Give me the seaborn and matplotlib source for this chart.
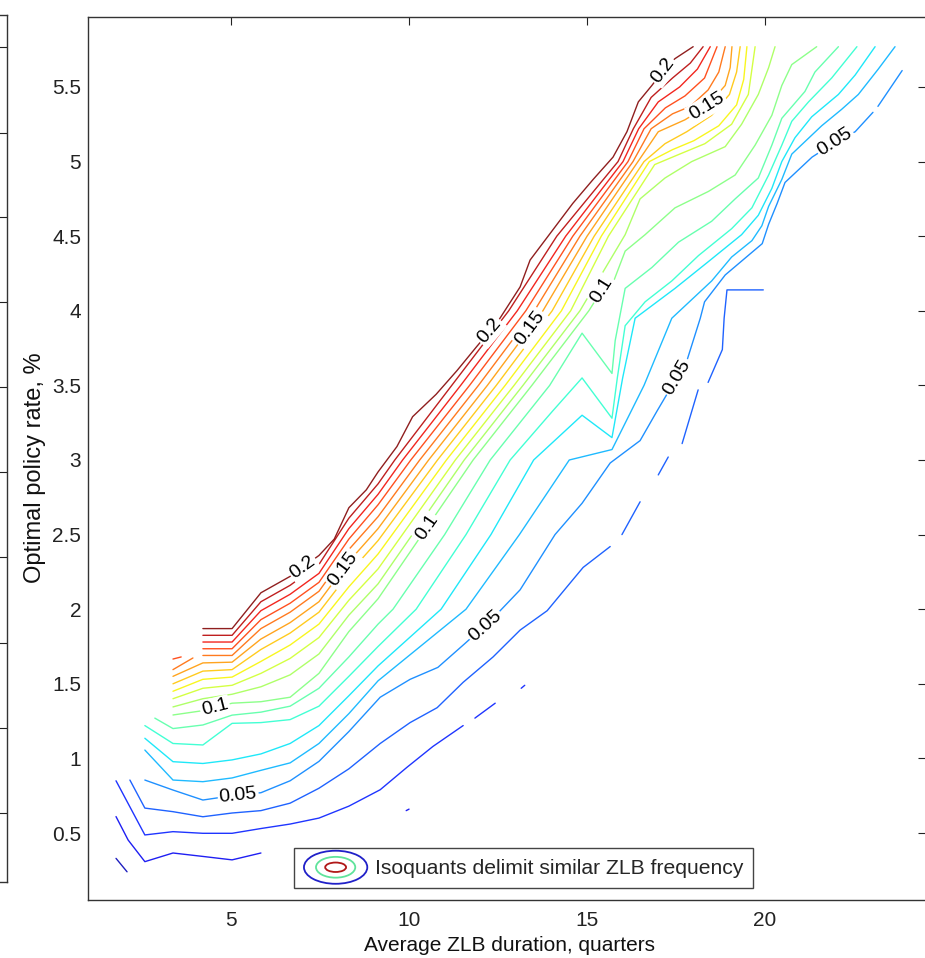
import math
import numpy as np
import pandas as pd
import seaborn as sns
import matplotlib
matplotlib.use("Agg")
import matplotlib.pyplot as plt
from matplotlib.legend_handler import HandlerBase
from matplotlib.patches import Ellipse

sns.set_style("white")
plt.rcParams['font.family'] = ['Liberation Sans', 'DejaVu Sans']

N = None  # break inside an isoquant

# ---------------- data: isoquants (x = avg ZLB duration, y = policy rate) ----------------
iso01_x = [1.77, 2.08]
iso01_y = [0.33, 0.24]
iso02_x = [1.77, 2.11, 2.58, 3.37, 4.21, 5.03, 5.84, N, 9.92, 10.00]
iso02_y = [0.61, 0.453, 0.308, 0.366, 0.343, 0.32, 0.366, N, 0.65, 0.66]
iso03_x = [1.77, 2.58, 3.37, 4.21, 5.03, 5.84, 6.66, 7.47, 8.31, 9.19, 9.94, 10.67, 11.52, N, 11.85, 12.42, N, 13.15, 13.25]
iso03_y = [0.85, 0.487, 0.509, 0.498, 0.498, 0.53, 0.56, 0.60, 0.68, 0.79, 0.94, 1.08, 1.22, N, 1.27, 1.37, N, 1.47, 1.49]
iso04_x = [2.16, 2.58, 3.37, 4.21, 5.03, 5.84, 6.66, 7.47, 8.31, 9.19, 10.03, 10.79, 11.52, 12.36, 13.12, 13.88, 14.61, 14.89, 15.65,
           N, 15.98, 16.49, N, 17.00, 17.28, N, 17.67, 18.12, N, 18.40, 18.80, 18.85, 18.93, 19.95]
iso04_y = [0.855, 0.667, 0.643, 0.609, 0.634, 0.65, 0.70, 0.80, 0.93, 1.10, 1.24, 1.34, 1.51, 1.68, 1.86, 1.99, 2.20, 2.28, 2.42,
           N, 2.50, 2.72, N, 2.90, 3.02, N, 3.11, 3.47, N, 3.52, 3.74, 3.95, 4.14, 4.14]
iso05_x = [2.58, 3.37, 4.21, 5.03, 5.84, 6.66, 7.47, 8.31, 9.19, 10.03, 10.81, 11.57, 12.36, 13.12, 14.10, 14.86, 15.65, 16.49,
           16.97, 17.81, 18.18, 18.30, 18.88, 19.92, 20.10, 20.34, 20.56, 21.32, 21.97, 22.53, 23.03, N, 23.17, 23.85]
iso05_y = [0.855, 0.788, 0.721, 0.75, 0.77, 0.85, 0.98, 1.18, 1.41, 1.53, 1.61, 1.77, 1.94, 2.13, 2.50, 2.71, 2.98, 3.13,
           3.33, 3.67, 3.95, 4.06, 4.24, 4.45, 4.58, 4.72, 4.86, 5.03, 5.13, 5.20, 5.33, N, 5.37, 5.61]
iso06_x = [2.58, 3.37, 4.21, 5.03, 5.84, 6.66, 7.47, 8.31, 9.13, 11.60, 13.10, 14.50, 15.70, 16.60, 17.38, 18.50, 19.06, 19.63,
           19.91, 20.10, 20.47, 20.75, 21.59, 22.15, 22.62, 23.18, 23.65]
iso06_y = [1.056, 0.855, 0.844, 0.869, 0.92, 0.97, 1.10, 1.30, 1.52, 2.00, 2.50, 3.00, 3.07, 3.50, 3.95, 4.20, 4.36, 4.47,
           4.57, 4.70, 4.88, 5.05, 5.24, 5.35, 5.45, 5.62, 5.77]
iso07_x = [2.58, 3.37, 4.21, 5.03, 5.84, 6.66, 7.47, 8.31, 9.13, 10.90, 12.30, 13.50, 14.86, 15.70, 16.00, 16.35, 17.47, 18.41,
           19.34, 19.81, 20.19, 20.47, 20.84, 21.31, 22.06, 22.53, 23.09]
iso07_y = [1.135, 0.978, 0.966, 0.99, 1.03, 1.10, 1.22, 1.42, 1.62, 2.00, 2.50, 3.00, 3.30, 3.15, 3.55, 3.95, 4.15, 4.33,
           4.51, 4.64, 4.82, 5.00, 5.16, 5.30, 5.45, 5.58, 5.77]
iso08_x = [2.58, 3.37, 4.21, 5.03, 5.84, 6.66, 7.47, 8.31, 9.13, 10.20, 11.60, 12.84, 14.04, 14.86, 15.70, 15.85, 16.07, 16.63,
           17.38, 18.13, 19.06, 19.63, 20.10, 20.47, 20.75, 21.22, 21.87, 22.58]
iso08_y = [1.22, 1.10, 1.09, 1.235, 1.24, 1.26, 1.35, 1.55, 1.75, 2.00, 2.50, 3.00, 3.33, 3.55, 3.28, 3.55, 3.90, 4.06,
           4.20, 4.37, 4.55, 4.69, 4.91, 5.11, 5.27, 5.40, 5.56, 5.77]
iso09_x = [2.86, 3.37, 4.21, 5.03, 5.84, 6.66, 7.47, 8.31, 9.13, 9.55, 11.00, 12.28, 13.95, 14.86, 15.70, 15.79, 16.07, 16.82,
           17.57, 18.50, 19.16, 19.81, 20.19, 20.47, 21.12, 21.40, 22.06]
iso09_y = [1.27, 1.20, 1.224, 1.29, 1.31, 1.35, 1.47, 1.68, 1.90, 2.00, 2.50, 3.00, 3.50, 3.85, 3.58, 3.80, 4.15, 4.29,
           4.46, 4.60, 4.75, 4.89, 5.11, 5.29, 5.47, 5.60, 5.77]
iso10_x = [3.37, 4.21, 5.03, 5.84, 6.66, 7.47, 8.31, 9.13, 11.80, 13.45, 15.05, 15.42, 15.75, 16.07, 16.63, 17.47, 18.41,
           19.16, 19.72, 20.19, 20.47, 20.75, 21.45]
iso10_y = [1.291, 1.32, 1.37, 1.38, 1.41, 1.57, 1.85, 2.07, 3.00, 3.50, 4.00, 4.14, 4.20, 4.40, 4.51, 4.69, 4.80,
           4.91, 5.11, 5.31, 5.51, 5.65, 5.77]
iso11_x = [3.37, 4.21, 5.03, 5.84, 6.66, 7.47, 8.31, 9.13, 11.55, 13.20, 14.80, 16.07, 16.49, 17.19, 17.94, 18.88, 19.34, 19.81, 20.10, 20.28]
iso11_y = [1.345, 1.40, 1.43, 1.48, 1.56, 1.70, 1.96, 2.17, 3.00, 3.50, 4.00, 4.51, 4.75, 4.89, 5.00, 5.10, 5.25, 5.45, 5.63, 5.77]
iso12_x = [3.37, 4.21, 5.03, 5.84, 6.66, 7.47, 8.31, 9.13, 11.30, 12.95, 14.54, 15.60, 16.90, 17.60, 18.31, 19.06, 19.53, 19.72]
iso12_y = [1.40, 1.47, 1.49, 1.57, 1.67, 1.81, 2.06, 2.27, 3.00, 3.50, 4.00, 4.50, 4.98, 5.05, 5.12, 5.25, 5.45, 5.77]
iso13_x = [3.37, 4.21, 5.03, 5.84, 6.66, 7.47, 8.31, 9.13, 11.05, 12.70, 14.28, 15.40, 16.75, 17.40, 18.00, 18.70, 19.20, 19.40, 19.49]
iso13_y = [1.45, 1.53, 1.545, 1.65, 1.76, 1.90, 2.15, 2.37, 3.00, 3.50, 4.00, 4.50, 5.00, 5.08, 5.14, 5.24, 5.38, 5.55, 5.77]
iso14_x = [3.37, 4.21, 5.03, 5.84, 6.66, 7.47, 8.31, 9.13, 10.80, 12.45, 14.02, 15.20, 16.60, 17.19, 17.80, 18.50, 19.00, 19.20, 19.30]
iso14_y = [1.50, 1.585, 1.595, 1.73, 1.84, 1.98, 2.24, 2.46, 3.00, 3.50, 4.00, 4.50, 5.00, 5.12, 5.20, 5.31, 5.45, 5.60, 5.77]
iso15_x = [3.37, 4.21, 5.03, 5.84, 6.66, 7.47, 8.31, 9.13, 10.55, 12.20, 13.76, 15.00, 16.43, 17.00, 17.75, 18.36, 18.88, 19.02, 19.07]
iso15_y = [1.55, 1.64, 1.645, 1.80, 1.91, 2.05, 2.32, 2.54, 3.00, 3.50, 4.00, 4.50, 5.00, 5.20, 5.28, 5.37, 5.51, 5.63, 5.77]
iso16_x = [3.37, 3.93, N, 4.21, 5.03, 5.84, 6.66, 7.47, 8.31, 9.13, 10.30, 11.95, 13.52, 14.80, 16.29, 16.80, 17.40, 17.90, 18.40, 18.70, 18.88]
iso16_y = [1.595, 1.673, N, 1.69, 1.69, 1.87, 1.98, 2.12, 2.40, 2.62, 3.00, 3.50, 4.00, 4.50, 5.00, 5.22, 5.32, 5.37, 5.48, 5.60, 5.77]
iso17_x = [3.37, 3.60, N, 4.21, 5.03, 5.84, 6.66, 7.47, 8.31, 9.13, 10.05, 11.70, 13.28, 14.60, 16.15, 16.60, 17.20, 17.75, 18.30, 18.65]
iso17_y = [1.666, 1.68, N, 1.735, 1.735, 1.93, 2.04, 2.18, 2.47, 2.70, 3.00, 3.50, 4.00, 4.50, 5.00, 5.22, 5.36, 5.44, 5.56, 5.77]
iso18_x = [4.21, 5.03, 5.84, 6.66, 7.47, 8.31, 9.13, 9.82, 11.45, 13.04, 14.40, 16.01, 16.45, 17.00, 17.60, 18.10, 18.46]
iso18_y = [1.78, 1.78, 1.99, 2.10, 2.24, 2.54, 2.77, 3.00, 3.50, 4.00, 4.50, 5.00, 5.22, 5.40, 5.50, 5.62, 5.77]
iso19_x = [4.21, 5.03, 5.84, 6.66, 7.47, 8.31, 9.13, 9.60, 11.20, 12.80, 14.15, 15.87, 16.30, 16.80, 17.40, 17.90, 18.26]
iso19_y = [1.825, 1.825, 2.05, 2.16, 2.30, 2.61, 2.84, 3.00, 3.50, 4.00, 4.50, 5.00, 5.22, 5.43, 5.56, 5.66, 5.77]
iso20_x = [4.21, 5.03, 5.84, 6.66, 7.47, 7.90, 8.31, 8.80, 9.13, 9.66, 10.10, 10.76, 11.35, 11.90, 12.50, 13.12, 13.40,
           14.00, 14.60, 15.17, 15.73, 16.12, 16.44, 16.82, 17.14, 17.47, 17.98]
iso20_y = [1.87, 1.87, 2.11, 2.22, 2.36, 2.47, 2.68, 2.80, 2.92, 3.09, 3.29, 3.44, 3.60, 3.76, 3.93, 4.16, 4.34,
           4.53, 4.72, 4.88, 5.03, 5.20, 5.40, 5.51, 5.61, 5.69, 5.77]

levels = [0.01, 0.02, 0.03, 0.04, 0.05, 0.06, 0.07, 0.08, 0.09, 0.10,
          0.11, 0.12, 0.13, 0.14, 0.15, 0.16, 0.17, 0.18, 0.19, 0.20]
iso_x = [iso01_x, iso02_x, iso03_x, iso04_x, iso05_x, iso06_x, iso07_x, iso08_x, iso09_x, iso10_x,
         iso11_x, iso12_x, iso13_x, iso14_x, iso15_x, iso16_x, iso17_x, iso18_x, iso19_x, iso20_x]
iso_y = [iso01_y, iso02_y, iso03_y, iso04_y, iso05_y, iso06_y, iso07_y, iso08_y, iso09_y, iso10_y,
         iso11_y, iso12_y, iso13_y, iso14_y, iso15_y, iso16_y, iso17_y, iso18_y, iso19_y, iso20_y]

# inline contour labels: level and x position along the line
label_level = [0.20, 0.20, 0.20, 0.15, 0.15, 0.15, 0.10, 0.10, 0.10, 0.05, 0.05, 0.05, 0.05]
label_xpos = [7.02, 12.27, 17.14, 8.15, 13.4, 18.36, 4.55, 10.5, 15.42, 5.2, 12.13, 17.53, 21.97]

x_ticks = [5, 10, 15, 20]
y_ticks = [0.5, 1, 1.5, 2, 2.5, 3, 3.5, 4, 4.5, 5, 5.5]
y_ticklabels = ['0.5', '1', '1.5', '2', '2.5', '3', '3.5', '4', '4.5', '5', '5.5']
legend_text = 'Isoquants delimit similar ZLB frequency'
x_label = 'Average ZLB duration, quarters'
y_label = 'Optimal policy rate, %'

# ---------------- build long table, split into segments ----------------
def segments(xs, ys):
    segs, cx, cy = [], [], []
    for a, b in zip(xs, ys):
        if a is None:
            if cx:
                segs.append((cx, cy))
            cx, cy = [], []
        else:
            cx.append(a); cy.append(b)
    if cx:
        segs.append((cx, cy))
    return segs

rows = []
seg_id = 0
for lev, xs, ys in zip(levels, iso_x, iso_y):
    for sx, sy in segments(xs, ys):
        seg_id += 1
        for k, (a, b) in enumerate(zip(sx, sy)):
            rows.append(dict(level=lev, seg=seg_id, order=k, x=a, y=b))
df = pd.DataFrame(rows)

# ---------------- figure ----------------
W, H = 925, 958
fig = plt.figure(figsize=(W / 100, H / 100), dpi=100)
ax = fig.add_axes([88 / W, (H - 900) / H, 838 / W, 883 / H])

jet = matplotlib.colormaps['jet']
sns.lineplot(data=df, x='x', y='y', hue='level', units='seg', estimator=None, sort=False,
             palette=jet, hue_norm=(0.0, 0.2), legend=False, linewidth=1.0, alpha=0.88, ax=ax)

ax.set_xlim(0.983, 24.52)
ax.set_ylim(0.051, 5.969)
ax.set_xticks(x_ticks)
ax.set_xticklabels([str(t) for t in x_ticks])
ax.set_yticks(y_ticks)
ax.set_yticklabels(y_ticklabels)
ax.tick_params(axis='both', direction='in', length=6, width=0.8, top=True, right=True,
               labelsize=15, colors='#222222')
ax.tick_params(axis='x', pad=8)
ax.tick_params(axis='y', pad=5)
for s in ax.spines.values():
    s.set_linewidth(1.0)
    s.set_color('#333333')
ax.set_xlabel(x_label, fontsize=15, color='#111111')
ax.set_ylabel(y_label, fontsize=17, color='#111111')
ax.xaxis.set_label_coords(0.503, -0.041)
ax.yaxis.set_label_coords(-0.050, 0.49)

# inline labels
lev_index = {round(l, 3): i for i, l in enumerate(levels)}
for lev, xq in zip(label_level, label_xpos):
    i = lev_index[round(lev, 3)]
    done = False
    for sx, sy in segments(iso_x[i], iso_y[i]):
        for j in range(len(sx) - 1):
            if sx[j] <= xq <= sx[j + 1] and sx[j + 1] > sx[j]:
                t = (xq - sx[j]) / (sx[j + 1] - sx[j])
                yq = sy[j] + t * (sy[j + 1] - sy[j])
                p0 = ax.transData.transform((sx[j], sy[j]))
                p1 = ax.transData.transform((sx[j + 1], sy[j + 1]))
                ang = math.degrees(math.atan2(p1[1] - p0[1], p1[0] - p0[0]))
                ax.text(xq, yq, f'{lev:g}', rotation=ang, rotation_mode='anchor', ha='center', va='center',
                        fontsize=14, color='black', zorder=6,
                        bbox=dict(boxstyle='square,pad=0.08', fc='white', ec='none'))
                done = True
                break
        if done:
            break

# legend with concentric-ellipse key
class IsoKey:
    pass

class HandlerIso(HandlerBase):
    def create_artists(self, legend, orig_handle, xdescent, ydescent, width, height, fontsize, trans):
        cx = -xdescent + width / 2
        cy = -ydescent + height / 2
        arts = []
        for fw, fh, col in [(1.0, 1.75, '#2020c8'), (0.62, 1.1, '#5fe39b'), (0.33, 0.5, '#b01818')]:
            arts.append(Ellipse((cx, cy), width * fw, height * fh, fill=False, edgecolor=col,
                                linewidth=1.3, transform=trans))
        return arts

leg = ax.legend([IsoKey()], [legend_text], handler_map={IsoKey: HandlerIso()},
                loc='lower center', bbox_to_anchor=(0.5197, 0.0136), fontsize=15.2, frameon=True,
                fancybox=False, edgecolor='#444444', framealpha=1, handlelength=3.0, handleheight=1.0,
                handletextpad=0.35, borderpad=0.45, borderaxespad=0)
leg.get_frame().set_linewidth(1.0)

# partial neighbouring panel at the far left
ax0 = fig.add_axes([-0.2, (H - 882) / H, 0.2 + 7 / W, 867 / H])
ax0.set_ylim(0, 867)
ax0.set_xticks([])
ax0.set_yticks([882 - p for p in [46.7, 132.7, 217.3, 301.7, 386.7, 471.7, 556.7, 642.7, 728.3, 813.3]])
ax0.yaxis.tick_right()
ax0.tick_params(axis='y', direction='in', length=6, width=0.8, labelright=False, colors='#222222')
for s in ax0.spines.values():
    s.set_linewidth(1.0)
    s.set_color('#333333')

fig.savefig('out.png', dpi=100)
